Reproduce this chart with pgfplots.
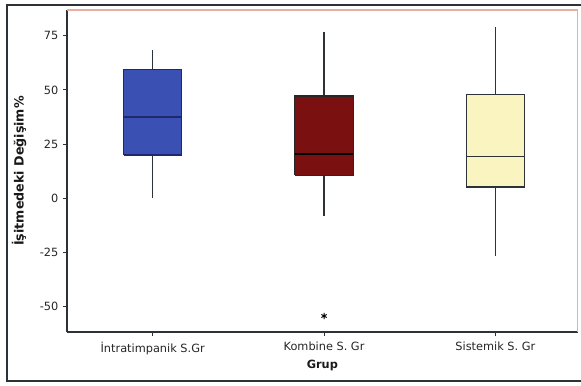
\documentclass[border=0pt]{standalone}
\usepackage{pgfplots}
\pgfplotsset{compat=1.18}
\usepackage{fontspec}
\setmainfont{DejaVu Sans}
\definecolor{boxA}{RGB}{58,80,178}
\definecolor{boxAedge}{RGB}{30,40,110}
\definecolor{boxB}{RGB}{122,16,16}
\definecolor{boxC}{RGB}{250,244,192}
\definecolor{lineg}{RGB}{45,50,55}
\definecolor{pinkb}{RGB}{232,175,160}
\begin{document}
\begin{tikzpicture}
\useasboundingbox (-50.25pt,-39.75pt) rectangle (385.5pt,249pt);
\draw[lineg, line width=1.1pt] (-45pt,-36.75pt) rectangle (392pt,245.25pt);
\begin{axis}[
  at={(0pt,0pt)}, anchor=south west,
  scale only axis, width=383pt, height=241.5pt,
  xmin=-0.5, xmax=2.48, ymin=-62, ymax=87,
  axis x line*=bottom, axis y line*=left,
  axis line style={lineg, line width=1pt},
  xtick={0,1,2},
  xticklabels={İntratimpanik S.Gr, Kombine S. Gr, Sistemik S. Gr},
  ytick={-50,-25,0,25,50,75},
  tick align=outside, major tick length=3pt,
  tick style={lineg, line width=0.7pt},
  /pgf/number format/assume math mode=true,
  ticklabel style={font=\fontsize{8.5}{10}\selectfont, text=black!85},
  xticklabel style={yshift=-1pt},
  xlabel={Grup}, ylabel={İşitmedeki Değişim\%},
  xlabel style={at={(axis description cs:0.5,-0.1025)}, anchor=center, font=\fontsize{8.5}{10}\selectfont\bfseries, text=black!90},
  ylabel style={at={(axis description cs:-0.094,0.5)}, anchor=center, font=\fontsize{9.5}{11}\selectfont\bfseries, text=black!90},
  clip=false,
]
\draw[pinkb, line width=0.8pt] (rel axis cs:0,1) -- (rel axis cs:1,1) -- (rel axis cs:1,0);
% whiskers
\addplot[lineg, line width=1.1pt] coordinates {(0,59.3) (0,68.5)};
\addplot[lineg, line width=1.1pt] coordinates {(0,0) (0,19.9)};
\addplot[lineg, line width=1.1pt] coordinates {(1,47.2) (1,76.9)};
\addplot[lineg, line width=1.1pt] coordinates {(1,-8.3) (1,10.6)};
\addplot[lineg, line width=1.1pt] coordinates {(2,48) (2,79.3)};
\addplot[lineg, line width=1.1pt] coordinates {(2,-26.7) (2,5.1)};
% boxes
\addplot[draw=boxAedge, fill=boxA, line width=0.8pt] coordinates {(-0.17,19.9) (0.17,19.9) (0.17,59.3) (-0.17,59.3) (-0.17,19.9)};
\addplot[draw=black!85, fill=boxB, line width=0.8pt] coordinates {(0.83,10.6) (1.17,10.6) (1.17,47.2) (0.83,47.2) (0.83,10.6)};
\addplot[draw=lineg, fill=boxC, line width=1pt] coordinates {(1.83,5.1) (2.17,5.1) (2.17,48) (1.83,48) (1.83,5.1)};
% medians
\addplot[boxAedge, line width=1pt] coordinates {(-0.17,37.5) (0.17,37.5)};
\addplot[black, line width=1pt] coordinates {(0.83,20.4) (1.17,20.4)};
\addplot[lineg, line width=1pt] coordinates {(1.83,19.1) (2.17,19.1)};
% outlier
\addplot[only marks, mark=asterisk, mark size=2.3pt, mark options={black, line width=0.7pt}] coordinates {(1,-54.6)};
\end{axis}
\end{tikzpicture}
\end{document}
